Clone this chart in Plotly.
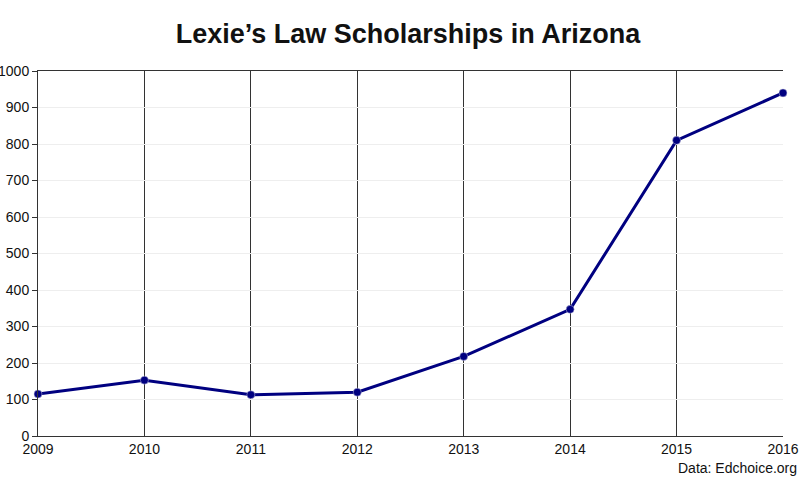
import plotly.graph_objects as go

years = [2009, 2010, 2011, 2012, 2013, 2014, 2015, 2016]
scholarships = [115, 153, 113, 120, 218, 347, 810, 940]
y_ticks = [0, 100, 200, 300, 400, 500, 600, 700, 800, 900, 1000]

fig = go.Figure()
fig.add_trace(go.Scatter(
    x=years, y=scholarships, mode="lines+markers",
    line=dict(color="#000080", width=3),
    marker=dict(color="#000080", size=8, line=dict(color="#c8c8e0", width=0.5)),
    cliponaxis=False, showlegend=False,
))

fig.update_layout(
    width=800, height=480,
    margin=dict(l=38, r=17, t=71, b=44, autoexpand=False),
    paper_bgcolor="white", plot_bgcolor="white",
    font=dict(family="Liberation Sans, Arial, sans-serif", size=14, color="#111"),
    title=dict(text="<b>Lexie’s Law Scholarships in Arizona</b>", x=0.51, xanchor="center",
               xref="container", yref="container",
               y=0.931, yanchor="middle", font=dict(size=27, color="#111")),
    xaxis=dict(range=[2009, 2016], tickvals=years, ticktext=[str(y) for y in years],
               showgrid=True, gridcolor="#333", gridwidth=1,
               showline=True, linecolor="#333", linewidth=1, mirror=True,
               ticks="", zeroline=False, fixedrange=True, automargin=False,
               tickfont=dict(size=14)),
    yaxis=dict(range=[0, 1000], tickvals=y_ticks,
               showgrid=True, gridcolor="#eeeeee", gridwidth=1,
               showline=True, linecolor="#333", linewidth=1,
               ticks="outside", ticklen=5, tickcolor="#333",
               zeroline=False, fixedrange=True, automargin=False,
               tickfont=dict(size=14)),
    annotations=[dict(text="Data: Edchoice.org", xref="paper", yref="paper",
                      x=1.0, xshift=16, y=0, yshift=-32, xanchor="right", yanchor="middle",
                      showarrow=False, font=dict(size=14, color="#111"))],
)

fig.write_html("out.html", config={"displayModeBar": False},
               post_script="document.body.style.margin='0';document.body.style.padding='0';")
